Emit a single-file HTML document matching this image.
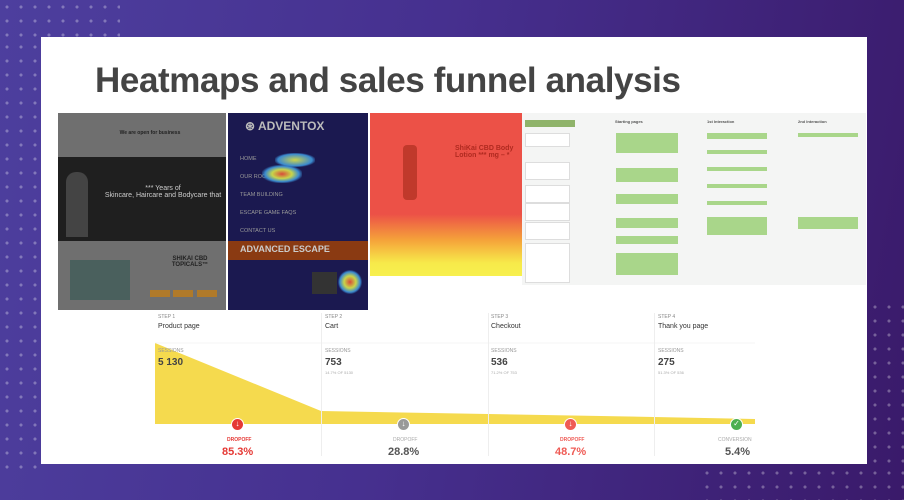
<!DOCTYPE html>
<html><head><meta charset="utf-8"><style>
*{margin:0;padding:0;box-sizing:border-box}
body{width:904px;height:500px;overflow:hidden;position:relative;font-family:"Liberation Sans",sans-serif;background:linear-gradient(100deg,#4d3f9e 0%,#46308f 45%,#3a1a6a 100%)}
.a{position:absolute}
.dots{position:absolute;background-image:radial-gradient(circle,rgba(255,255,255,.3) 1.3px,transparent 1.8px);background-size:14px 14px}
.card{left:41px;top:37px;width:826px;height:427px;background:#fff}
h1{position:absolute;left:95px;top:61px;font-size:35px;font-weight:bold;color:#444;letter-spacing:-0.4px}
.lbl{position:absolute;font-size:5px;color:#888}
.name{position:absolute;font-size:7px;color:#333}
.sess{position:absolute;font-size:5px;color:#999}
.num{position:absolute;font-size:10px;font-weight:bold;color:#444}
.sub{position:absolute;font-size:4px;color:#aaa}
.dl{position:absolute;font-size:5px;font-weight:bold}
.pct{position:absolute;font-size:11px;font-weight:bold}
.ic{position:absolute;width:13px;height:13px;border-radius:50%;border:1.5px solid #fff;color:#fff;font-size:8px;text-align:center;line-height:10px}
.vl{position:absolute;width:1px;background:#eee;top:313px;height:143px}
.node{position:absolute;background:#a9d68a;height:22px}
.wn{position:absolute;background:#fff;border:1px solid #ddd;height:18px}
</style></head><body>
<div class="dots" style="left:0;top:0;width:120px;height:40px"></div>
<div class="dots" style="left:0;top:40px;width:40px;height:430px"></div>
<div class="dots" style="left:700px;top:466px;width:204px;height:34px"></div>
<div class="dots" style="left:868px;top:300px;width:36px;height:166px"></div>
<div class="a card"></div>
<h1>Heatmaps and sales funnel analysis</h1>
<!-- image 1 -->
<div class="a" style="left:58px;top:113px;width:168px;height:197px;background:#6f6f6f"></div>
<div class="a" style="left:58px;top:157px;width:168px;height:84px;background:#1f1f1f"></div>
<div class="a" style="left:100px;top:185px;width:126px;font-size:7px;color:#ccc;text-align:center">*** Years of<br>Skincare, Haircare and Bodycare that</div>
<div class="a" style="left:110px;top:130px;width:80px;font-size:5px;color:#222;font-weight:bold;text-align:center">We are open for business</div>
<div class="a" style="left:66px;top:172px;width:22px;height:65px;background:#444;border-radius:10px 10px 0 0"></div>
<div class="a" style="left:160px;top:256px;width:60px;font-size:6px;color:#222;font-weight:bold;text-align:center">SHIKAI CBD<br>TOPICALS™</div>
<div class="a" style="left:150px;top:290px;width:20px;height:7px;background:#b07a2a"></div>
<div class="a" style="left:173px;top:290px;width:20px;height:7px;background:#b07a2a"></div>
<div class="a" style="left:197px;top:290px;width:20px;height:7px;background:#b07a2a"></div>
<div class="a" style="left:70px;top:260px;width:60px;height:40px;background:#3a5a55;opacity:.7"></div>
<!-- image 2 -->
<div class="a" style="left:228px;top:113px;width:140px;height:197px;background:#1b1950"></div>
<div class="a" style="left:245px;top:119px;font-size:12px;font-weight:bold;color:#bbb">⊛ ADVENTOX</div>
<div class="a" style="left:240px;top:150px;font-size:5.5px;color:#999;line-height:18px">HOME<br>OUR ROOMS<br>TEAM BUILDING<br>ESCAPE GAME FAQS<br>CONTACT US</div>
<div class="a" style="left:275px;top:153px;width:40px;height:14px;background:radial-gradient(#cdd34a,#3a8ad0 60%,transparent 75%)"></div>
<div class="a" style="left:262px;top:165px;width:40px;height:18px;background:radial-gradient(#d84a3a,#c8d54a 35%,#3a8ad0 60%,transparent 75%)"></div>
<div class="a" style="left:228px;top:241px;width:140px;height:19px;background:#8a3a12"></div>
<div class="a" style="left:240px;top:244px;font-size:9px;color:#ccc;font-weight:bold">ADVANCED ESCAPE</div>
<div class="a" style="left:338px;top:270px;width:24px;height:24px;background:radial-gradient(#d84a3a,#c8d54a 35%,#3a8ad0 60%,transparent 72%)"></div>
<div class="a" style="left:312px;top:272px;width:25px;height:22px;background:#333"></div>
<!-- image 3 -->
<div class="a" style="left:370px;top:113px;width:152px;height:163px;background:linear-gradient(#ec5147 0%,#ec5147 62%,#f5a33a 78%,#f7ea4a 92%,#f7f04e 100%)"></div>
<div class="a" style="left:403px;top:145px;width:14px;height:55px;background:#c0392b;border-radius:4px"></div>
<div class="a" style="left:455px;top:145px;font-size:7px;color:#b02a20;font-weight:bold">ShiKai CBD Body<br>Lotion *** mg – *</div>
<!-- image 4 -->
<div class="a" style="left:522px;top:113px;width:344px;height:172px;background:#f4f5f4"></div>
<div class="a" style="left:525px;top:120px;width:50px;height:7px;background:#8fb36a"></div>
<div class="a" style="left:615px;top:119px;font-size:4px;color:#555;font-weight:bold">Starting pages</div>
<div class="a" style="left:707px;top:119px;font-size:4px;color:#555;font-weight:bold">1st Interaction</div>
<div class="a" style="left:798px;top:119px;font-size:4px;color:#555;font-weight:bold">2nd Interaction</div>
<div class="wn" style="left:525px;top:133px;width:45px;height:14px"></div>
<div class="wn" style="left:525px;top:162px;width:45px"></div>
<div class="wn" style="left:525px;top:185px;width:45px"></div>
<div class="wn" style="left:525px;top:203px;width:45px"></div>
<div class="wn" style="left:525px;top:222px;width:45px"></div>
<div class="wn" style="left:525px;top:243px;width:45px;height:40px"></div>
<div class="node" style="left:616px;top:133px;width:62px;height:20px"></div>
<div class="node" style="left:616px;top:168px;width:62px;height:14px"></div>
<div class="node" style="left:616px;top:194px;width:62px;height:10px"></div>
<div class="node" style="left:616px;top:218px;width:62px;height:10px"></div>
<div class="node" style="left:616px;top:236px;width:62px;height:8px"></div>
<div class="node" style="left:616px;top:253px;width:62px;height:22px"></div>
<div class="node" style="left:707px;top:133px;width:60px;height:6px"></div>
<div class="node" style="left:707px;top:150px;width:60px;height:4px"></div>
<div class="node" style="left:707px;top:167px;width:60px;height:4px"></div>
<div class="node" style="left:707px;top:184px;width:60px;height:4px"></div>
<div class="node" style="left:707px;top:201px;width:60px;height:4px"></div>
<div class="node" style="left:707px;top:217px;width:60px;height:18px"></div>
<div class="node" style="left:798px;top:133px;width:60px;height:4px"></div>
<div class="node" style="left:798px;top:217px;width:60px;height:12px"></div>
<!-- funnel -->
<svg class="a" style="left:0;top:0" width="904" height="500">
<polygon points="155,343 321,411 488,414 654,417 755,419 755,424 155,424" fill="#f5da4e"/>
<line x1="155" y1="343" x2="755" y2="343" stroke="#eee" stroke-width="0.6"/>
</svg>
<div class="vl" style="left:321px"></div><div class="vl" style="left:488px"></div><div class="vl" style="left:654px"></div>
<div class="lbl" style="left:158px;top:314px">STEP 1</div><div class="name" style="left:158px;top:323px">Product page</div>
<div class="lbl" style="left:325px;top:314px">STEP 2</div><div class="name" style="left:325px;top:323px">Cart</div>
<div class="lbl" style="left:491px;top:314px">STEP 3</div><div class="name" style="left:491px;top:323px">Checkout</div>
<div class="lbl" style="left:658px;top:314px">STEP 4</div><div class="name" style="left:658px;top:323px">Thank you page</div>
<div class="sess" style="left:158px;top:348px">SESSIONS</div><div class="num" style="left:158px;top:357px">5 130</div>
<div class="sess" style="left:325px;top:348px">SESSIONS</div><div class="num" style="left:325px;top:357px">753</div><div class="sub" style="left:325px;top:370px">14.7% OF 5130</div>
<div class="sess" style="left:491px;top:348px">SESSIONS</div><div class="num" style="left:491px;top:357px">536</div><div class="sub" style="left:491px;top:370px">71.2% OF 753</div>
<div class="sess" style="left:658px;top:348px">SESSIONS</div><div class="num" style="left:658px;top:357px">275</div><div class="sub" style="left:658px;top:370px">51.3% OF 536</div>
<div class="ic" style="left:231px;top:418px;background:#e53935">↓</div>
<div class="ic" style="left:397px;top:418px;background:#999">↓</div>
<div class="ic" style="left:564px;top:418px;background:#ef5b55">↓</div>
<div class="ic" style="left:730px;top:418px;background:#4caf50">✓</div>
<div class="dl" style="left:227px;top:437px;color:#e53935">DROPOFF</div>
<div class="dl" style="left:393px;top:437px;color:#aaa;font-weight:normal">DROPOFF</div>
<div class="dl" style="left:560px;top:437px;color:#ef5b55">DROPOFF</div>
<div class="dl" style="left:718px;top:437px;color:#aaa;font-weight:normal">CONVERSION</div>
<div class="pct" style="left:222px;top:446px;color:#e53935">85.3%</div>
<div class="pct" style="left:388px;top:446px;color:#555">28.8%</div>
<div class="pct" style="left:555px;top:446px;color:#ef5b55">48.7%</div>
<div class="pct" style="left:725px;top:446px;color:#555">5.4%</div>
</body></html>
